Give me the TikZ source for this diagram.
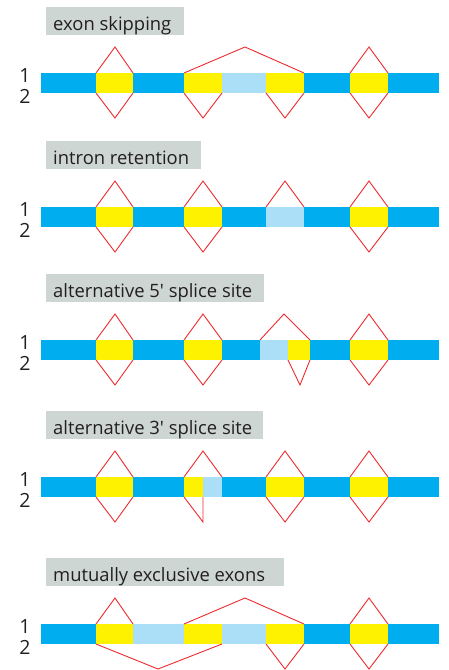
\documentclass[tikz,border=0pt]{standalone}
\usepackage{fontspec}
\setmainfont{Open Sans}
\definecolor{dblue}{HTML}{00AEEF}
\definecolor{lblue}{HTML}{ABDFF7}
\definecolor{yel}{HTML}{FFF200}
\definecolor{spl}{HTML}{EE2A2F}
\definecolor{boxg}{HTML}{CDD6D2}
\definecolor{txt}{HTML}{231F20}
\tikzset{
  splice/.style={draw=spl, line width=0.9pt, line join=miter},
  exonfill/.style={fill=yel},
  retfill/.style={fill=lblue},
  genefill/.style={fill=dblue},
  headbox/.style={fill=boxg},
  headtext/.style={anchor=base west, inner sep=0pt, text=txt, font=\fontsize{18.4}{20}\selectfont},
  numtext/.style={anchor=base, inner sep=0pt, text=txt, font=\fontsize{19.5}{20}\selectfont},
}
% #1 name, #2 top of bar, #3 right edge of head box, #4 head text
\newcommand\mkhead[4]{%
  \fill[headbox] (46,{#2-66}) rectangle (#3,{#2-38});
  \node[headtext] (#1h) at (53,{#2-43}) {#4};
  \node[numtext] (#1a) at (25,{#2+9}) {1};
  \node[numtext] (#1b) at (25,{#2+30}) {2};
}
\newcommand\seg[4]{\fill[#1] (#2,#4) rectangle (#3,{#4+20});}
\newcommand\up[4]{\draw[splice] (#1,#4) -- (#2,{#4-26}) -- (#3,#4);}
\newcommand\dn[4]{\draw[splice] (#1,{#4+20}) -- (#2,{#4+45}) -- (#3,{#4+20});}
\begin{document}
\begin{tikzpicture}[x=1pt,y=-1pt]
\useasboundingbox (0,0) rectangle (448,670);
% panel 1: exon skipping
\def\T{73}
\mkhead{p1}{\T}{184}{exon skipping}
\seg{genefill}{41}{439}{\T}
\seg{exonfill}{96}{133}{\T}
\seg{exonfill}{184}{222}{\T}
\seg{retfill}{222}{266}{\T}
\seg{exonfill}{266}{304}{\T}
\seg{exonfill}{350}{388}{\T}
\up{96}{115}{133}{\T}
\up{184}{245}{304}{\T}
\up{350}{369}{388}{\T}
\dn{96}{115}{133}{\T}
\dn{184}{203}{222}{\T}
\dn{266}{285}{304}{\T}
\dn{350}{369}{388}{\T}
% panel 2: intron retention
\def\T{207}
\mkhead{p2}{\T}{201}{intron retention}
\seg{genefill}{41}{439}{\T}
\seg{exonfill}{96}{133}{\T}
\seg{exonfill}{184}{222}{\T}
\seg{retfill}{266}{304}{\T}
\seg{exonfill}{350}{388}{\T}
\up{96}{115}{133}{\T}
\up{184}{203}{222}{\T}
\up{266}{285}{304}{\T}
\up{350}{369}{388}{\T}
\dn{96}{115}{133}{\T}
\dn{184}{203}{222}{\T}
\dn{350}{369}{388}{\T}
% panel 3: alternative 5' splice site
\def\T{340}
\mkhead{p3}{\T}{264}{alternative 5′ splice site}
\seg{genefill}{41}{439}{\T}
\seg{exonfill}{96}{133}{\T}
\seg{exonfill}{184}{222}{\T}
\seg{retfill}{260}{288}{\T}
\seg{exonfill}{288}{310}{\T}
\seg{exonfill}{350}{388}{\T}
\up{96}{115}{133}{\T}
\up{184}{203}{222}{\T}
\up{260}{284}{310}{\T}
\up{350}{369}{388}{\T}
\dn{96}{115}{133}{\T}
\dn{184}{203}{222}{\T}
\dn{288}{300}{310}{\T}
\dn{350}{369}{388}{\T}
% panel 4: alternative 3' splice site
\def\T{477}
\mkhead{p4}{\T}{263}{alternative 3′ splice site}
\seg{genefill}{41}{439}{\T}
\seg{exonfill}{96}{133}{\T}
\seg{exonfill}{184}{203}{\T}
\seg{retfill}{203}{222}{\T}
\seg{exonfill}{266}{304}{\T}
\seg{exonfill}{350}{388}{\T}
\up{96}{115}{133}{\T}
\up{184}{203}{222}{\T}
\up{266}{285}{304}{\T}
\up{350}{369}{388}{\T}
\dn{96}{115}{133}{\T}
\dn{184}{203}{203}{\T}
\dn{266}{285}{304}{\T}
\dn{350}{369}{388}{\T}
% panel 5: mutually exclusive exons
\def\T{624}
\mkhead{p5}{\T}{284}{mutually exclusive exons}
\seg{genefill}{41}{439}{\T}
\seg{exonfill}{96}{133}{\T}
\seg{retfill}{133}{184}{\T}
\seg{exonfill}{184}{222}{\T}
\seg{retfill}{222}{266}{\T}
\seg{exonfill}{266}{304}{\T}
\seg{exonfill}{350}{388}{\T}
\up{96}{115}{133}{\T}
\up{184}{245}{304}{\T}
\up{350}{369}{388}{\T}
\dn{96}{158}{222}{\T}
\dn{266}{285}{304}{\T}
\dn{350}{369}{388}{\T}
\end{tikzpicture}
\end{document}
